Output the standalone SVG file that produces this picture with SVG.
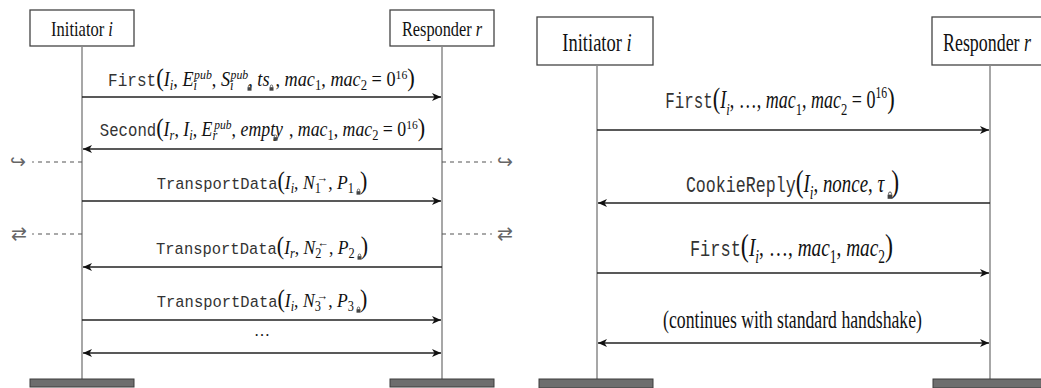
<svg xmlns="http://www.w3.org/2000/svg" xmlns:xlink="http://www.w3.org/1999/xlink" width="1041" height="388" viewBox="0 0 1041 388">
<style>
.box{fill:#fff;stroke:#444;stroke-width:1.3}
.life{stroke:#8a8a8a;stroke-width:1.5;fill:none}
.bar{fill:#6e6e6e;stroke:#3c3c3c;stroke-width:1}
.msg{stroke:#222;stroke-width:1.3;fill:none}
.dash{stroke:#555;stroke-width:1.1;stroke-dasharray:4 4;fill:none}
.hd{font-family:"Liberation Serif",serif;fill:#111;text-anchor:middle}
.lbl{font-family:"Liberation Serif",serif;font-style:italic;fill:#111;text-anchor:middle}
.tt{font-family:"Liberation Mono",monospace;font-style:normal;font-size:0.88em;fill:#333}
.up{font-style:normal}
.pr{font-style:normal;font-size:1.25em}
.sb{font-size:0.7em}
.L .sb{baseline-shift:-4px}
.R .sb{baseline-shift:-5px}
.sp{font-size:0.65em}
.L .sp{baseline-shift:7px}
.R .sp{baseline-shift:8px}
.sym{font-family:"DejaVu Sans",sans-serif;font-size:19px;fill:#666;text-anchor:middle}
</style>
<defs>
<marker id="ah" markerWidth="10" markerHeight="8" refX="9" refY="4" orient="auto-start-reverse" markerUnits="userSpaceOnUse">
<path d="M0,0 L9,4 L0,8 L2.5,4 z" fill="#111"/>
</marker>
<symbol id="lock" viewBox="0 0 6 8">
<path d="M1.6,3.6 V2.4 a1.4,1.4 0 0 1 2.8,0 V3.6" fill="none" stroke="#444" stroke-width="0.9"/>
<rect x="0.6" y="3.6" width="4.8" height="4.2" fill="#444"/>
</symbol>
</defs>

<!-- LEFT DIAGRAM -->
<g id="left-initiator">
<rect class="box" x="30" y="10" width="104" height="36"/>
<text class="hd" transform="translate(82,35.5) scale(1,1.3)" x="0" y="0" font-size="16.5">Initiator <tspan font-style="italic">i</tspan></text>
<line class="life" x1="82" y1="46" x2="82" y2="379"/>
<rect class="bar" x="30" y="379" width="104" height="8"/>
</g>
<g id="left-responder">
<rect class="box" x="390" y="10" width="104" height="36"/>
<text class="hd" transform="translate(442,35.5) scale(1,1.3)" x="0" y="0" font-size="16.3">Responder <tspan font-style="italic">r</tspan></text>
<line class="life" x1="442" y1="46" x2="442" y2="379"/>
<rect class="bar" x="390" y="379" width="104" height="8"/>
</g>

<g id="left-connectors">
<line class="msg" x1="82" y1="97" x2="441" y2="97" marker-end="url(#ah)"/>
<line class="msg" x1="442" y1="149" x2="83" y2="149" marker-end="url(#ah)"/>
<line class="msg" x1="82" y1="201" x2="441" y2="201" marker-end="url(#ah)"/>
<line class="msg" x1="442" y1="267" x2="83" y2="267" marker-end="url(#ah)"/>
<line class="msg" x1="82" y1="320" x2="441" y2="320" marker-end="url(#ah)"/>
<line class="msg" x1="83" y1="353" x2="441" y2="353" marker-start="url(#ah)" marker-end="url(#ah)"/>
<circle cx="33" cy="162" r="0.8" fill="#555"/>
<line class="dash" x1="38" y1="162" x2="82" y2="162"/>
<line class="dash" x1="442" y1="162" x2="488" y2="162"/>
<circle cx="491" cy="162" r="0.8" fill="#555"/>
<circle cx="33" cy="234" r="0.8" fill="#555"/>
<line class="dash" x1="38" y1="234" x2="82" y2="234"/>
<line class="dash" x1="442" y1="234" x2="488" y2="234"/>
<circle cx="491" cy="234" r="0.8" fill="#555"/>
</g>

<g id="left-labels">
<text class="sym" x="18" y="168">↪</text>
<text class="sym" x="505" y="168">↪</text>
<text class="sym" x="19" y="240">⇄</text>
<text class="sym" x="505" y="240">⇄</text>

<text class="lbl L" transform="translate(261.5,86) scale(1,1.12)" x="0" y="0" font-size="18.2"><tspan class="tt">First</tspan><tspan class="pr">(</tspan>I<tspan class="sb">i</tspan><tspan class="up">, </tspan>E<tspan class="sb">i</tspan><tspan class="sp" dx="-3">pub</tspan><tspan class="up">, </tspan>S<tspan class="sb">i</tspan><tspan class="sp" dx="-3">pub</tspan><tspan class="up">, </tspan>ts<tspan class="up" dx="6">, </tspan>mac<tspan class="sb up">1</tspan><tspan class="up">, </tspan>mac<tspan class="sb up">2</tspan><tspan class="up"> = 0</tspan><tspan class="sp up">16</tspan><tspan class="pr">)</tspan></text>
<use href="#lock" x="247" y="84" width="5" height="7"/>
<use href="#lock" x="269" y="84" width="5" height="7"/>

<text class="lbl L" transform="translate(262.5,136) scale(1,1.12)" x="0" y="0" font-size="17.8"><tspan class="tt">Second</tspan><tspan class="pr">(</tspan>I<tspan class="sb">r</tspan><tspan class="up">, </tspan>I<tspan class="sb">i</tspan><tspan class="up">, </tspan>E<tspan class="sb">r</tspan><tspan class="sp" dx="-3">pub</tspan><tspan class="up">, </tspan>empty<tspan class="up" dx="6">, </tspan>mac<tspan class="sb up">1</tspan><tspan class="up">, </tspan>mac<tspan class="sb up">2</tspan><tspan class="up"> = 0</tspan><tspan class="sp up">16</tspan><tspan class="pr">)</tspan></text>
<use href="#lock" x="273" y="134" width="5" height="7"/>

<text class="lbl L" transform="translate(262,189) scale(1,1.12)" x="0" y="0" font-size="17.6"><tspan class="tt">TransportData</tspan><tspan class="pr">(</tspan>I<tspan class="sb">i</tspan><tspan class="up">, </tspan>N<tspan class="sb up">1</tspan><tspan class="sp up" dx="-4">→</tspan><tspan class="up">, </tspan>P<tspan class="sb up">1</tspan><tspan class="pr" dx="6">)</tspan></text>
<use href="#lock" x="356" y="188" width="5" height="7"/>

<text class="lbl L" transform="translate(262,254) scale(1,1.12)" x="0" y="0" font-size="17.6"><tspan class="tt">TransportData</tspan><tspan class="pr">(</tspan>I<tspan class="sb">r</tspan><tspan class="up">, </tspan>N<tspan class="sb up">2</tspan><tspan class="sp up" dx="-4">←</tspan><tspan class="up">, </tspan>P<tspan class="sb up">2</tspan><tspan class="pr" dx="6">)</tspan></text>
<use href="#lock" x="357" y="253" width="5" height="7"/>

<text class="lbl L" transform="translate(262,307) scale(1,1.12)" x="0" y="0" font-size="17.6"><tspan class="tt">TransportData</tspan><tspan class="pr">(</tspan>I<tspan class="sb">i</tspan><tspan class="up">, </tspan>N<tspan class="sb up">3</tspan><tspan class="sp up" dx="-4">→</tspan><tspan class="up">, </tspan>P<tspan class="sb up">3</tspan><tspan class="pr" dx="6">)</tspan></text>
<use href="#lock" x="356" y="306" width="5" height="7"/>

<text class="hd" x="262" y="336" font-size="16">…</text>
</g>

<!-- RIGHT DIAGRAM -->
<g id="right-initiator">
<rect class="box" x="537" y="17" width="116" height="48"/>
<text class="hd" transform="translate(597,51) scale(1,1.4)" x="0" y="0" font-size="18.5">Initiator <tspan font-style="italic">i</tspan></text>
<line class="life" x1="597" y1="65" x2="597" y2="379"/>
<rect class="bar" x="539" y="379" width="114" height="9"/>
</g>
<g id="right-responder">
<rect class="box" x="932" y="17" width="116" height="48"/>
<text class="hd" transform="translate(987,51) scale(1,1.4)" x="0" y="0" font-size="17.9">Responder <tspan font-style="italic">r</tspan></text>
<line class="life" x1="990" y1="65" x2="990" y2="379"/>
<rect class="bar" x="933" y="379" width="114" height="9"/>
</g>

<g id="right-connectors">
<line class="msg" x1="597" y1="130" x2="989" y2="130" marker-end="url(#ah)"/>
<line class="msg" x1="990" y1="203" x2="598" y2="203" marker-end="url(#ah)"/>
<line class="msg" x1="597" y1="273" x2="989" y2="273" marker-end="url(#ah)"/>
<line class="msg" x1="598" y1="343" x2="989" y2="343" marker-start="url(#ah)" marker-end="url(#ah)"/>
</g>

<g id="right-labels">
<text class="lbl R" transform="translate(780,108) scale(1,1.35)" x="0" y="0" font-size="18"><tspan class="tt">First</tspan><tspan class="pr">(</tspan>I<tspan class="sb">i</tspan><tspan class="up">, …, </tspan>mac<tspan class="sb up">1</tspan><tspan class="up">, </tspan>mac<tspan class="sb up">2</tspan><tspan class="up"> = 0</tspan><tspan class="sp up">16</tspan><tspan class="pr">)</tspan></text>

<text class="lbl R" transform="translate(792.5,192) scale(1,1.35)" x="0" y="0" font-size="18.9"><tspan class="tt">CookieReply</tspan><tspan class="pr">(</tspan>I<tspan class="sb">i</tspan><tspan class="up">, </tspan>nonce<tspan class="up">, </tspan>τ<tspan class="pr" dx="7">)</tspan></text>
<use href="#lock" x="887" y="191" width="6" height="8"/>

<text class="lbl R" transform="translate(791.5,256) scale(1,1.35)" x="0" y="0" font-size="19.3"><tspan class="tt">First</tspan><tspan class="pr">(</tspan>I<tspan class="sb">i</tspan><tspan class="up">, …, </tspan>mac<tspan class="sb up">1</tspan><tspan class="up">, </tspan>mac<tspan class="sb up">2</tspan><tspan class="pr">)</tspan></text>

<text class="hd" transform="translate(792.5,328) scale(1,1.4)" x="0" y="0" font-size="17.7">(continues with standard handshake)</text>
</g>
</svg>
